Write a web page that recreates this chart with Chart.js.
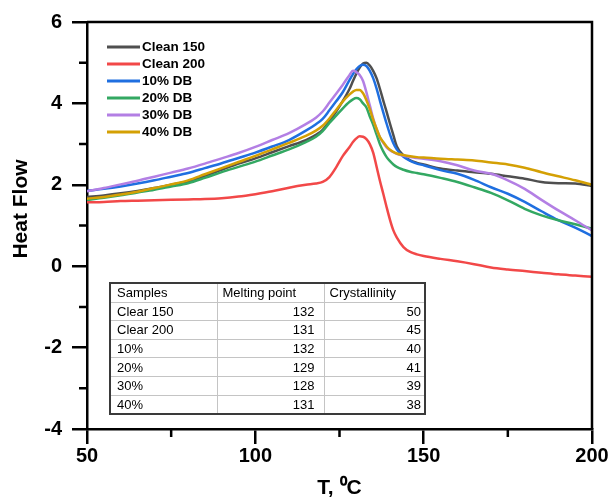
<!DOCTYPE html>
<html><head><meta charset="utf-8">
<script src="https://cdn.jsdelivr.net/npm/chart.js@4.4.0/dist/chart.umd.min.js"></script>
<style>
html,body{margin:0;padding:0;background:#fff;}
#wrap{position:relative;width:613px;height:503px;overflow:hidden;}
#c{position:absolute;left:0;top:0;}
#tbl{position:absolute;left:109px;top:282px;border-collapse:collapse;table-layout:fixed;
  font:13px "Liberation Sans",Arial,sans-serif;color:#000;border:2px solid #3a3a3a;}
#tbl td{border:1px solid #c4c4c4;height:17.6px;padding:0 0 0 6px;line-height:17px;white-space:nowrap;overflow:hidden;}
#tbl td.n{text-align:right;padding:0 9px 0 0;}
#tbl td.n3{text-align:right;padding:0 3px 0 0;}
</style></head>
<body><div id="wrap"><canvas id="c" width="613" height="503"></canvas><table id="tbl"></table></div>
<script>
const temps = [50,55,60,65,70,75,80,85,90,95,100,105,110,115,118,120,122,124,126,128,129,130,131,132,133,134,135,136,137,138,139,140,141,142,144,146,148,150,155,160,165,170,175,180,185,190,195,200];
const clean150 = [1.70,1.74,1.79,1.85,1.92,2.00,2.08,2.22,2.37,2.52,2.65,2.80,2.95,3.10,3.23,3.35,3.57,3.80,4.06,4.36,4.55,4.73,4.88,4.98,5.00,4.93,4.80,4.62,4.36,4.07,3.79,3.50,3.22,2.95,2.72,2.60,2.54,2.50,2.40,2.35,2.31,2.27,2.21,2.15,2.07,2.04,2.03,1.97];
const clean200 = [1.57,1.58,1.60,1.61,1.62,1.63,1.64,1.65,1.67,1.71,1.77,1.84,1.93,2.00,2.03,2.07,2.19,2.43,2.71,2.93,3.05,3.14,3.19,3.18,3.12,3.00,2.79,2.45,2.10,1.78,1.45,1.14,0.88,0.71,0.47,0.35,0.29,0.25,0.18,0.12,0.05,-0.03,-0.08,-0.12,-0.16,-0.20,-0.23,-0.26];
const db10 = [1.85,1.90,1.96,2.03,2.11,2.20,2.29,2.41,2.53,2.66,2.79,2.94,3.10,3.33,3.49,3.62,3.83,4.05,4.28,4.58,4.72,4.84,4.92,4.95,4.92,4.80,4.62,4.37,4.07,3.78,3.50,3.24,3.02,2.87,2.69,2.59,2.52,2.48,2.36,2.27,2.12,1.94,1.78,1.58,1.35,1.13,0.95,0.74];
const db20 = [1.63,1.68,1.74,1.81,1.88,1.96,2.04,2.17,2.31,2.44,2.57,2.72,2.87,3.05,3.18,3.32,3.52,3.70,3.88,4.04,4.10,4.13,4.10,4.00,3.90,3.68,3.48,3.24,3.00,2.82,2.68,2.58,2.50,2.44,2.37,2.32,2.29,2.26,2.17,2.07,1.94,1.80,1.62,1.41,1.25,1.13,1.03,0.92];
const db30 = [1.84,1.92,2.01,2.10,2.20,2.30,2.40,2.52,2.65,2.78,2.93,3.10,3.27,3.49,3.65,3.80,4.02,4.24,4.46,4.70,4.80,4.77,4.70,4.55,4.27,3.95,3.63,3.37,3.17,3.03,2.92,2.85,2.80,2.76,2.71,2.68,2.66,2.64,2.58,2.48,2.35,2.27,2.11,1.90,1.63,1.37,1.13,0.88];
const db40 = [1.66,1.70,1.76,1.83,1.92,2.01,2.11,2.26,2.41,2.56,2.71,2.87,3.03,3.20,3.33,3.45,3.63,3.84,4.05,4.22,4.29,4.33,4.33,4.25,4.08,3.86,3.60,3.38,3.17,3.05,2.94,2.86,2.81,2.77,2.73,2.70,2.68,2.67,2.64,2.62,2.60,2.55,2.50,2.42,2.31,2.21,2.11,2.00];
const seriesLabels = ['Clean 150','Clean 200','10% DB','20% DB','30% DB','40% DB'];
const seriesValues = [clean150, clean200, db10, db20, db30, db40];
const seriesColors = ['#4f4f4f','#f24848','#1f6fe0','#33a862','#b37fe4','#d4a004'];
const xMajor = [50,100,150,200];
const xMinor = [75,125,175];
const yMajor = [-4,-2,0,2,4,6];
const yMinor = [-3,-1,1,3,5];
const tableHeader = ['Samples','Melting point','Crystallinity'];
const tableSamples = ['Clear 150','Clear 200','10%','20%','30%','40%'];
const tableMelting = [132,131,132,129,128,131];
const tableCryst = [50,45,40,41,39,38];

// table
(function(){
  const t = document.getElementById('tbl');
  const cg = document.createElement('colgroup');
  [107,107,101].forEach(w=>{const c=document.createElement('col');c.style.width=w+'px';cg.appendChild(c);});
  t.appendChild(cg);
  const hr = t.insertRow();
  tableHeader.forEach((h,i)=>{const c=hr.insertCell();c.textContent=h;if(i>0)c.style.paddingLeft='5px';});
  tableSamples.forEach((s,i)=>{
    const r=t.insertRow();
    const a=r.insertCell();a.textContent=s;
    const b=r.insertCell();b.textContent=tableMelting[i];b.className='n';
    const d=r.insertCell();d.textContent=tableCryst[i];d.className='n3';
  });
})();

const FONT = '"Liberation Sans", Arial, sans-serif';
const AXW = 2.5;

const framePlugin = {
  id:'frame',
  afterDraw(chart){
    const {ctx, chartArea:a, scales:{x,y}} = chart;
    ctx.save();
    ctx.strokeStyle='#000'; ctx.lineWidth=AXW; ctx.lineCap='butt';
    ctx.beginPath();
    ctx.moveTo(a.left, a.top); ctx.lineTo(a.right, a.top); ctx.lineTo(a.right, a.bottom);
    ctx.stroke();
    // minor ticks
    ctx.beginPath();
    xMinor.forEach(v=>{const px=x.getPixelForValue(v);ctx.moveTo(px,a.bottom);ctx.lineTo(px,a.bottom+8);});
    yMinor.forEach(v=>{const py=y.getPixelForValue(v);ctx.moveTo(a.left,py);ctx.lineTo(a.left-8,py);});
    ctx.stroke();
    // y title
    ctx.fillStyle='#000';
    ctx.font='bold 21px '+FONT;
    ctx.translate(21, 209); ctx.rotate(-Math.PI/2);
    ctx.textAlign='center'; ctx.textBaseline='middle';
    ctx.fillText('Heat Flow',0,0);
    ctx.restore();
    // legend
    ctx.save();
    ctx.font='bold 13.5px '+FONT;
    ctx.textBaseline='middle'; ctx.textAlign='left';
    chart.data.datasets.forEach((ds,i)=>{
      const yy = 47 + i*17;
      ctx.strokeStyle=ds.borderColor; ctx.lineWidth=3;
      ctx.beginPath(); ctx.moveTo(107,yy); ctx.lineTo(140,yy); ctx.stroke();
      ctx.fillStyle='#000';
      ctx.fillText(ds.label,142,yy+0.5);
    });
    ctx.restore();
  }
};

const datasets = seriesLabels.map((lab,i)=>({
  label: lab,
  data: temps.map((t,k)=>({x:t,y:seriesValues[i][k]})),
  borderColor: seriesColors[i],
  backgroundColor: seriesColors[i],
  borderWidth: 2.5,
  pointRadius: 0,
  cubicInterpolationMode: 'monotone',
  fill: false,
  order: seriesLabels.length - i
}));

new Chart(document.getElementById('c'), {
  type:'line',
  data:{datasets},
  options:{
    responsive:false,
    animation:false,
    devicePixelRatio:1,
    layout:{padding:{top:21,right:21,left:0,bottom:0}},
    plugins:{legend:{display:false},tooltip:{enabled:false}},
    scales:{
      x:{
        type:'linear', min:50, max:200,
        afterBuildTicks(s){ s.ticks = xMajor.map(v=>({value:v})); },
        ticks:{font:{family:FONT,size:20,weight:'bold'},color:'#000',padding:0,maxRotation:0},
        grid:{drawOnChartArea:false,drawTicks:true,tickLength:15,color:'#000',lineWidth:AXW},
        border:{display:true,color:'#000',width:AXW},
        title:{display:true,text:'T, \u2070C',font:{family:FONT,size:21,weight:'bold'},color:'#000',padding:{top:0,bottom:2}},
        afterFit(s){ s.height = 74; }
      },
      y:{
        type:'linear', min:-4, max:6,
        afterBuildTicks(s){ s.ticks = yMajor.map(v=>({value:v})); },
        ticks:{font:{family:FONT,size:20,weight:'bold'},color:'#000',padding:10},
        grid:{drawOnChartArea:false,drawTicks:true,tickLength:15,color:'#000',lineWidth:AXW},
        border:{display:true,color:'#000',width:AXW},
        afterFit(s){ s.width = 87; }
      }
    }
  },
  plugins:[framePlugin]
});
</script></body></html>
